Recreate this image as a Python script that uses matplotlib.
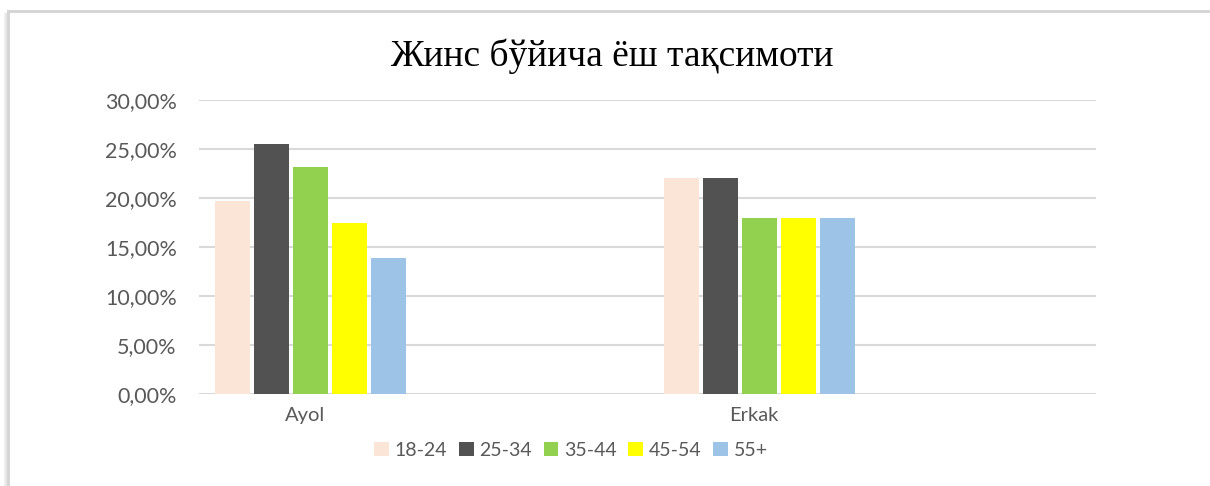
import matplotlib.pyplot as plt
import numpy as np
from matplotlib.lines import Line2D

categories = ['Ayol', 'Erkak']
age_groups = ['18-24', '25-34', '35-44', '45-54', '55+']
values = {
    '18-24': [19.7, 22.0],
    '25-34': [25.5, 22.0],
    '35-44': [23.2, 18.0],
    '45-54': [17.4, 18.0],
    '55+':   [13.9, 18.0],
}
colors = ['#FBE5D6', '#525252', '#92D050', '#FFFF00', '#9DC3E6']
title = 'Жинс бўйича ёш тақсимоти'

W, H = 1210, 486
fig = plt.figure(figsize=(W / 100, H / 100), dpi=100)
ax = fig.add_axes([199 / W, 92 / H, 897 / W, 294 / H])

x = np.arange(len(categories))
group_shift = -0.251
step = 0.087
width = 0.078
for i, (grp, col) in enumerate(zip(age_groups, colors)):
    off = group_shift + (i - 2) * step
    ax.bar(x + off, values[grp], width, color=col, label=grp, zorder=3)

ax.set_xlim(-0.5, 1.5)
ax.set_ylim(0, 30)
ax.set_yticks(np.arange(0, 31, 5))
ax.set_yticklabels([f'{v:.2f}%'.replace('.', ',') for v in np.arange(0, 31, 5)])
ax.set_xticks(x + group_shift - 0.013)
ax.set_xticklabels(categories)
ax.yaxis.grid(True, color='#d9d9d9', linewidth=1.5, zorder=0)
for s in ax.spines.values():
    s.set_visible(False)
ax.tick_params(axis='both', length=0, colors='#595959', labelfontfamily='Lato')
ax.tick_params(axis='y', labelsize=15.5, pad=16)
ax.tick_params(axis='x', labelsize=14.5, pad=9)

fig.text(612 / W, 1 - 56 / H, title, ha='center', va='center',
         fontsize=27, family='Liberation Serif', color='black')

leg = fig.legend(loc='center', bbox_to_anchor=(571 / W, 1 - 450 / H), ncol=5,
                 frameon=False, handlelength=0.75, handleheight=0.75,
                 handletextpad=0.3, columnspacing=0.6,
                 prop={'family': 'Lato', 'size': 14})
for t in leg.get_texts():
    t.set_color('#595959')

# chart frame with a soft shadow on the left
for k, a in enumerate([0.04, 0.06, 0.09]):
    fig.add_artist(Line2D([(4 + k) / W, (4 + k) / W], [0, 1 - 13 / H],
                          transform=fig.transFigure, color='black', alpha=a, linewidth=1))
fig.add_artist(Line2D([8 / W, 1], [1 - 11 / H, 1 - 11 / H], transform=fig.transFigure,
                      color='#d4d4d4', linewidth=2))
fig.add_artist(Line2D([8 / W, 8 / W], [0, 1 - 11 / H], transform=fig.transFigure,
                      color='#d4d4d4', linewidth=2))

fig.savefig('out.png', dpi=100)
